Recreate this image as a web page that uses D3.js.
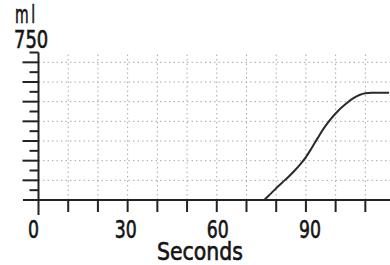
<!DOCTYPE html>
<html><head><meta charset="utf-8">
<script src="https://cdn.jsdelivr.net/npm/d3@7"></script>
<style>
html,body{margin:0;padding:0;background:#fff;}
svg{display:block;}
text{font-family:"DejaVu Sans Condensed","DejaVu Sans",sans-serif;fill:#151515;stroke:#151515;stroke-width:0.6px;}
</style></head>
<body>
<svg id="c" width="390" height="265"></svg>
<script>
const times   = [76,78,80,82,84,86,88,90,92,94,96,98,100,102,104,106,108,110,112,114,116,118];
const volumes = [0,30,60,88,116,146,180,218,266,316,364,405,440,470,496,518,534,543,545,545,545,545];
const xTickLabels = [0,30,60,90];
const yTopLabel = "750";
const yUnit = "ml";
const xTitle = "Seconds";

const svg = d3.select("#c");
const x = d3.scaleLinear().domain([0,118.3]).range([38.5,390]);
const y = d3.scaleLinear().domain([0,750]).range([200,52.5]);

// grid
const gx = d3.range(10,120,10);
const gy = d3.range(100,800,100);
svg.append("g").selectAll("line").data(gx).join("line")
  .attr("x1",d=>x(d)).attr("x2",d=>x(d)).attr("y1",y(750)+2).attr("y2",y(0))
  .attr("stroke","#a8a8a8").attr("stroke-width",1).attr("stroke-dasharray","1.5,3");
svg.append("g").selectAll("line").data(gy).join("line")
  .attr("x1",x(0)).attr("x2",390).attr("y1",d=>y(d)).attr("y2",d=>y(d))
  .attr("stroke","#a8a8a8").attr("stroke-width",1).attr("stroke-dasharray","1.5,3");

// y axis ticks
const yt = d3.range(50,800,50);
svg.append("g").selectAll("line").data(yt).join("line")
  .attr("x1",d=> d%100===0 ? x(0)-16 : x(0)-9).attr("x2",x(0))
  .attr("y1",d=>y(d)).attr("y2",d=>y(d))
  .attr("stroke","#222").attr("stroke-width",2);
// x axis ticks
svg.append("g").selectAll("line").data(gx).join("line")
  .attr("x1",d=>x(d)).attr("x2",d=>x(d)).attr("y1",y(0)).attr("y2",y(0)+12)
  .attr("stroke","#222").attr("stroke-width",2);

// axes lines
svg.append("line").attr("x1",x(0)).attr("x2",x(0)).attr("y1",y(750)).attr("y2",y(0)+15)
  .attr("stroke","#222").attr("stroke-width",2);
svg.append("line").attr("x1",23).attr("x2",390).attr("y1",y(0)).attr("y2",y(0))
  .attr("stroke","#222").attr("stroke-width",2);

// curve
const pts = times.map((t,i)=>[t,volumes[i]]);
svg.append("path").datum(pts)
  .attr("d",d3.line().x(d=>x(d[0])).y(d=>y(d[1])).curve(d3.curveMonotoneX))
  .attr("fill","none").attr("stroke","#2a2a2a").attr("stroke-width",2);

// labels
svg.append("g").selectAll("text").data(xTickLabels).join("text")
  .attr("transform",d=>`translate(${x(d)-5+d*0.1},238) scale(0.8,1)`)
  .attr("text-anchor","middle").attr("font-size",24).text(d=>d);
svg.append("text").attr("transform","translate(200,260) scale(0.91,1)")
  .attr("text-anchor","middle").attr("font-size",25).text(xTitle);
svg.append("text").attr("transform","translate(15,23) scale(0.65,1)")
  .attr("font-size",24).attr("letter-spacing",4).text(yUnit);
svg.append("text").attr("transform","translate(14,48) scale(0.83,1)")
  .attr("font-size",24).text(yTopLabel);
</script>
</body></html>
